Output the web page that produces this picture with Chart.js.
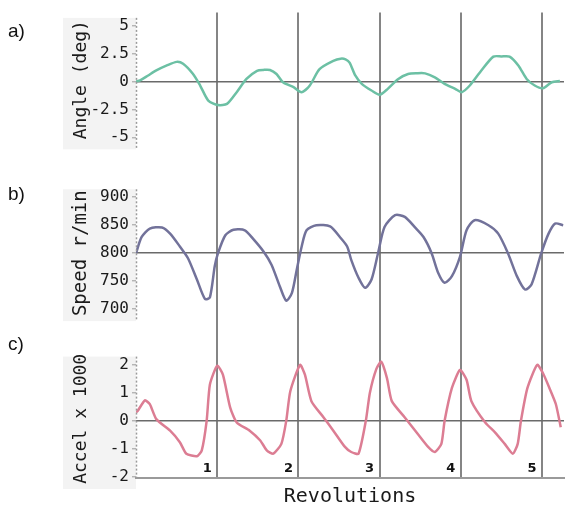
<!DOCTYPE html>
<html><head><meta charset="utf-8">
<script src="https://cdn.jsdelivr.net/npm/chart.js@4"></script>
<style>
html,body{margin:0;padding:0;background:#fff;}
#wrap{position:relative;width:565px;height:512px;overflow:hidden;}
#c{position:absolute;left:0;top:0;}
.pl{position:absolute;left:8px;font:19px "Liberation Sans",Arial,sans-serif;color:#111;line-height:20px;}
</style></head><body>
<div id="wrap">
<canvas id="c" width="565" height="512"></canvas>
<div class="pl" style="top:21px">a)</div>
<div class="pl" style="top:184px">b)</div>
<div class="pl" style="top:334px">c)</div>
</div>
<script>
// ---- data (x in revolutions) ----
const angleRev = [0.0,0.05,0.15,0.25,0.38,0.5,0.58,0.70,0.79,0.89,1.01,1.12,1.24,1.36,1.49,1.57,1.65,1.73,1.81,1.94,2.04,2.14,2.26,2.43,2.52,2.58,2.63,2.70,2.78,2.90,3.00,3.10,3.23,3.35,3.46,3.56,3.68,3.80,3.93,4.01,4.11,4.25,4.40,4.50,4.60,4.71,4.81,4.91,5.01,5.12,5.22];
const angleDeg = [0.0,0.1,0.55,1.0,1.45,1.77,1.6,0.7,-0.35,-1.7,-2.1,-2.0,-0.95,0.24,0.97,1.05,1.04,0.68,-0.06,-0.5,-0.95,-0.35,1.12,1.86,2.06,2.0,1.7,0.55,-0.2,-0.8,-1.18,-0.65,0.24,0.68,0.75,0.74,0.38,-0.2,-0.65,-0.95,-0.35,0.97,2.24,2.26,2.24,1.42,0.24,-0.35,-0.6,-0.06,0.05];

const speedRev = [0.0,0.07,0.17,0.32,0.42,0.54,0.64,0.75,0.85,0.91,0.97,1.01,1.10,1.20,1.34,1.44,1.57,1.67,1.77,1.85,1.92,1.98,2.04,2.10,2.22,2.39,2.51,2.60,2.65,2.74,2.82,2.90,2.98,3.06,3.19,3.31,3.43,3.54,3.64,3.72,3.80,3.89,3.99,4.07,4.17,4.34,4.46,4.58,4.69,4.79,4.87,4.99,5.08,5.16,5.26];
const speedRpm = [800,829,844,846,835,812,791,753,718,721,777,800,832,842,841,826,803,779,741,715,729,771,812,841,850,848,829,812,788,756,738,753,800,847,868,865,847,829,800,765,747,759,794,841,859,850,835,800,759,735,744,800,835,853,850];

const accelRev = [0.0,0.02,0.11,0.17,0.25,0.42,0.54,0.62,0.75,0.81,0.87,0.91,1.0,1.07,1.16,1.24,1.40,1.53,1.61,1.69,1.79,1.85,1.90,2.02,2.08,2.16,2.31,2.43,2.57,2.65,2.74,2.83,2.88,2.96,3.02,3.09,3.15,3.31,3.47,3.60,3.68,3.76,3.80,3.89,3.99,4.07,4.13,4.30,4.42,4.54,4.64,4.70,4.74,4.82,4.94,5.01,5.09,5.17,5.23];
const accelK = [0.3,0.35,0.73,0.59,0.06,-0.35,-0.76,-1.17,-1.26,-1.05,0,1.29,1.96,1.64,0.47,-0.06,-0.35,-0.70,-1.05,-1.17,-0.82,0,1.05,1.99,1.64,0.70,0.12,-0.35,-0.92,-1.11,-1.17,0,1.0,1.85,2.1,1.52,0.70,0.12,-0.47,-0.94,-1.11,-0.82,0,1.17,1.81,1.46,0.70,-0.06,-0.41,-0.82,-1.17,-0.82,0,1.17,1.99,1.70,1.17,0.59,-0.23];

// ---- tick labels ----
const revTicks = [1,2,3,4,5];
const angleTicks = [5,2.5,0,-2.5,-5];
const speedTicks = [900,850,800,750,700];
const accelTicks = [2,1,0,-1,-2];

const pts = (xs, ys) => xs.map((x,i)=>({x:x, y:ys[i]}));

const MONO = '"DejaVu Sans Mono", monospace';
const TXT = '#1a1a1a';

function yAxis(ticksArr, zero, min, max, weight, order, title, tSize, tPad){
  return {
    type:'linear', position:'left', stack:'panels', stackWeight:weight, weight:order,
    min:min, max:max,
    afterBuildTicks: s => { s.ticks = ticksArr.map(v=>({value:v})); },
    afterFit: s => { s.width = 136; },
    ticks:{ callback: v => String(v), font:{family:MONO,size:16}, color:TXT, padding:3, autoSkip:false },
    grid:{ color: c => (c.tick && c.tick.value===zero) ? '#6a6a6a' : 'rgba(0,0,0,0)',
           lineWidth:1.6, tickLength:4, tickColor:'#9a9a9a', tickWidth:1 },
    border:{ display:false },
    title:{ display:true, text:title, font:{family:MONO,size:tSize}, color:TXT, padding:{top:tPad,bottom:0} }
  };
}

const panelDeco = {
  id:'panelDeco',
  beforeDraw(chart){
    const ctx = chart.ctx;
    ctx.save();
    [['ya',angleTicks],['yb',speedTicks],['yc',accelTicks]].forEach(([id,t])=>{
      const s = chart.scales[id];
      const top = s.getPixelForValue(Math.max(...t)) - 8;
      const bot = s.getPixelForValue(Math.min(...t)) + 12;
      ctx.fillStyle = '#f3f3f3';
      ctx.fillRect(63, top, s.right - 63, bot - top);
    });
    ctx.restore();
  },
  afterDraw(chart){
    const ctx = chart.ctx;
    ctx.save();
    [['ya',angleTicks],['yb',speedTicks],['yc',accelTicks]].forEach(([id,t])=>{
      const s = chart.scales[id];
      const top = s.getPixelForValue(Math.max(...t)) - 8;
      const bot = s.getPixelForValue(Math.min(...t)) + 12;
      ctx.strokeStyle = '#9a9a9a'; ctx.lineWidth = 1.5; ctx.setLineDash([2,2]);
      ctx.beginPath(); ctx.moveTo(s.right+0.5, top); ctx.lineTo(s.right+0.5, Math.min(bot, chart.chartArea.bottom)); ctx.stroke();
    });
    ctx.setLineDash([]);
    const sx = chart.scales.x;
    ctx.font = 'bold 13px "DejaVu Sans", sans-serif';
    ctx.fillStyle = '#111';
    ctx.textAlign = 'center'; ctx.textBaseline = 'middle';
    revTicks.forEach(v => ctx.fillText(String(v), sx.getPixelForValue(v) - 10, chart.chartArea.bottom - 9));
    ctx.restore();
  }
};

new Chart(document.getElementById('c'), {
  type:'line',
  data:{ datasets:[
    { data:pts(angleRev,angleDeg), yAxisID:'ya', borderColor:'#6cc0a4', borderWidth:2.5, pointRadius:0, tension:0.25 },
    { data:pts(speedRev,speedRpm), yAxisID:'yb', borderColor:'#72729a', borderWidth:2.5, pointRadius:0, tension:0.25 },
    { data:pts(accelRev,accelK), yAxisID:'yc', borderColor:'#dc7d93', borderWidth:2.5, pointRadius:0, tension:0.2 }
  ]},
  options:{
    responsive:false, animation:false, devicePixelRatio:1,
    layout:{ padding:{ top:6, left:0, right:1, bottom:0 } },
    plugins:{ legend:{display:false}, tooltip:{enabled:false} },
    scales:{
      x:{ type:'linear', position:'bottom', min:0, max:5.27,
          afterBuildTicks: s => { s.ticks = revTicks.map(v=>({value:v})); },
          afterFit: s => { s.height = 34; },
          ticks:{ display:false },
          grid:{ color:'#858585', lineWidth:2, drawTicks:false },
          border:{ display:true, color:'#9a9a9a', width:2 },
          title:{ display:true, text:'Revolutions', font:{family:MONO,size:20}, color:TXT, padding:{top:0,bottom:3} } },
      ya: yAxis(angleTicks, 0, -5.84, 6.19, 136, 3, 'Angle (deg)', 18, 71),
      yb: yAxis(speedTicks, 800, 609.5, 990.5, 216, 2, 'Speed r/min', 19, 70),
      yc: yAxis(accelTicks, 0, -2.035, 2.175, 120, 1, 'Accel x 1000', 18, 71)
    }
  },
  plugins:[panelDeco]
});
</script>
</body></html>
